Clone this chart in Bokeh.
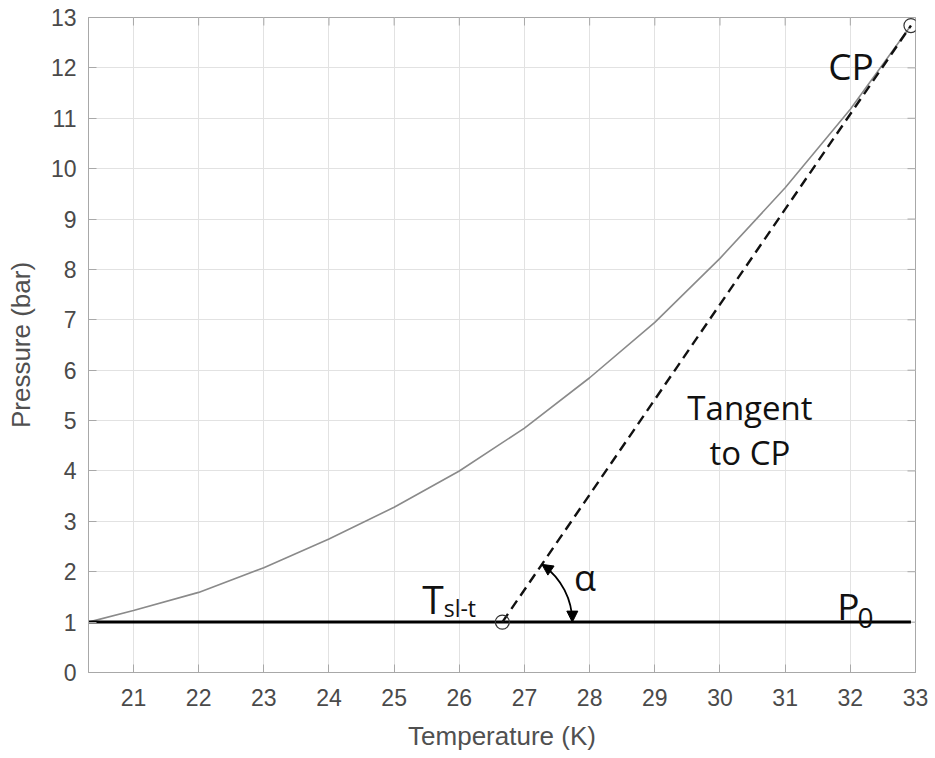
import math
from bokeh.plotting import figure
from bokeh.models import Range1d, FixedTicker, Arrow, NormalHead
from bokeh.core.properties import value
from bokeh.embed import file_html
from bokeh.resources import INLINE

# ---- data ----
temps = [20.31, 21, 22, 23, 24, 25, 26, 27, 28, 29, 30, 31, 32, 32.93]
pressures = [1.0, 1.23, 1.59, 2.08, 2.65, 3.28, 4.0, 4.85, 5.85, 6.95, 8.22, 9.62, 11.18, 12.84]
cp_point = (32.93, 12.84)
tsl_point = (26.66, 1.0)
p0_value = 1.0
x_ticks = list(range(21, 34))
y_ticks = list(range(0, 14))

X0, X1 = 20.31, 33.0
Y0, Y1 = 0.0, 13.0

W, H = 935, 758
BL, BR, BT, BB = 88, 20, 17, 86

p = figure(width=W, height=H, output_backend="svg", toolbar_location=None,
           x_range=Range1d(X0, X1), y_range=Range1d(Y0, Y1),
           min_border_left=BL, min_border_right=BR, min_border_top=BT, min_border_bottom=BB,
           x_axis_label="Temperature (K)", y_axis_label="Pressure (bar)")
p.background_fill_color = "white"
p.border_fill_color = "white"
p.outline_line_color = "#a8a8a8"
p.outline_line_width = 1

axis_gray = "#a8a8a8"
label_gray = "#4a4a4a"
for ax in (p.xaxis[0], p.yaxis[0]):
    ax.axis_line_color = axis_gray
    ax.major_tick_line_color = axis_gray
    ax.major_tick_in = 8
    ax.major_tick_out = 0
    ax.minor_tick_line_color = None
    ax.major_label_text_font = "Liberation Sans"
    ax.major_label_text_font_size = "23px"
    ax.major_label_text_color = label_gray
    ax.axis_label_text_font = "Liberation Sans"
    ax.axis_label_text_font_size = "26px"
    ax.axis_label_text_font_style = "normal"
    ax.axis_label_text_color = "#505050"

p.xaxis[0].ticker = FixedTicker(ticks=x_ticks)
p.yaxis[0].ticker = FixedTicker(ticks=y_ticks)
p.xaxis[0].major_label_standoff = 16
p.yaxis[0].major_label_standoff = 12
p.xaxis[0].axis_label_standoff = 12
p.yaxis[0].axis_label_standoff = 12

p.xgrid.ticker = FixedTicker(ticks=x_ticks)
p.ygrid.ticker = FixedTicker(ticks=y_ticks)
p.grid.grid_line_color = "#e2e2e2"
p.grid.grid_line_width = 1

# inward tick marks on the top and right edges of the box (clipped to the frame)
p.scatter(x_ticks, [Y1] * len(x_ticks), marker="dash", size=16, angle=math.pi / 2,
          line_color=axis_gray, line_width=1)
p.scatter([X1] * len(y_ticks), y_ticks, marker="dash", size=16, angle=0,
          line_color=axis_gray, line_width=1)

# vapour pressure curve
p.line(temps, pressures, line_color="#8a8a8a", line_width=1.6)

# P0 line
p.line([X0, cp_point[0]], [p0_value, p0_value], line_color="black", line_width=3)

# tangent to CP
p.line([tsl_point[0], cp_point[0]], [tsl_point[1], cp_point[1]],
       line_color="#111111", line_width=2.4, line_dash="10 6")

# end markers
p.scatter([tsl_point[0], cp_point[0]], [tsl_point[1], cp_point[1]], marker="circle",
          size=14, fill_color=None, line_color="#333333", line_width=1.2)

# alpha arc with arrows
sx = (W - BL - BR) / (X1 - X0)
sy = (H - BT - BB) / (Y1 - Y0)
theta = math.atan2((cp_point[1] - tsl_point[1]) * sy, (cp_point[0] - tsl_point[0]) * sx)
r = 70
p.arc(x=[tsl_point[0]], y=[tsl_point[1]], radius=r, radius_units="screen",
      start_angle=0, end_angle=theta - 0.02, direction="anticlock",
      line_color="black", line_width=1.8)
ex0, ey0 = tsl_point[0] + r / sx, tsl_point[1]
p.add_layout(Arrow(x_start=ex0, y_start=ey0 + 3 / sy, x_end=ex0, y_end=ey0,
                   line_alpha=0, end=NormalHead(size=11, fill_color="black", line_color="black")))
ex1 = tsl_point[0] + r * math.cos(theta) / sx
ey1 = tsl_point[1] + r * math.sin(theta) / sy
p.add_layout(Arrow(x_start=ex1 + 3 * math.sin(theta) / sx, y_start=ey1 - 3 * math.cos(theta) / sy,
                   x_end=ex1, y_end=ey1,
                   line_alpha=0, end=NormalHead(size=11, fill_color="black", line_color="black")))

F = value("Open Sans")
def txt(x, y, s, size, align="left"):
    p.text(x=[x], y=[y], text=[s], text_font=F, text_font_size=size,
           text_color="#111111", text_align=align, text_baseline="alphabetic")

txt(31.66, 12.04, "CP", "37px")
txt(30.46, 5.26, "Tangent", "33px", "center")
txt(30.46, 4.37, "to CP", "33px", "center")
txt(25.43, 1.47, "T", "39px")
txt(25.76, 1.28, "sl-t", "23px")
txt(27.76, 1.88, "α", "36px")
txt(31.80, 1.33, "P", "37px")
txt(32.11, 1.09, "0", "28px")

open("out.html", "w").write(file_html(p, INLINE))
